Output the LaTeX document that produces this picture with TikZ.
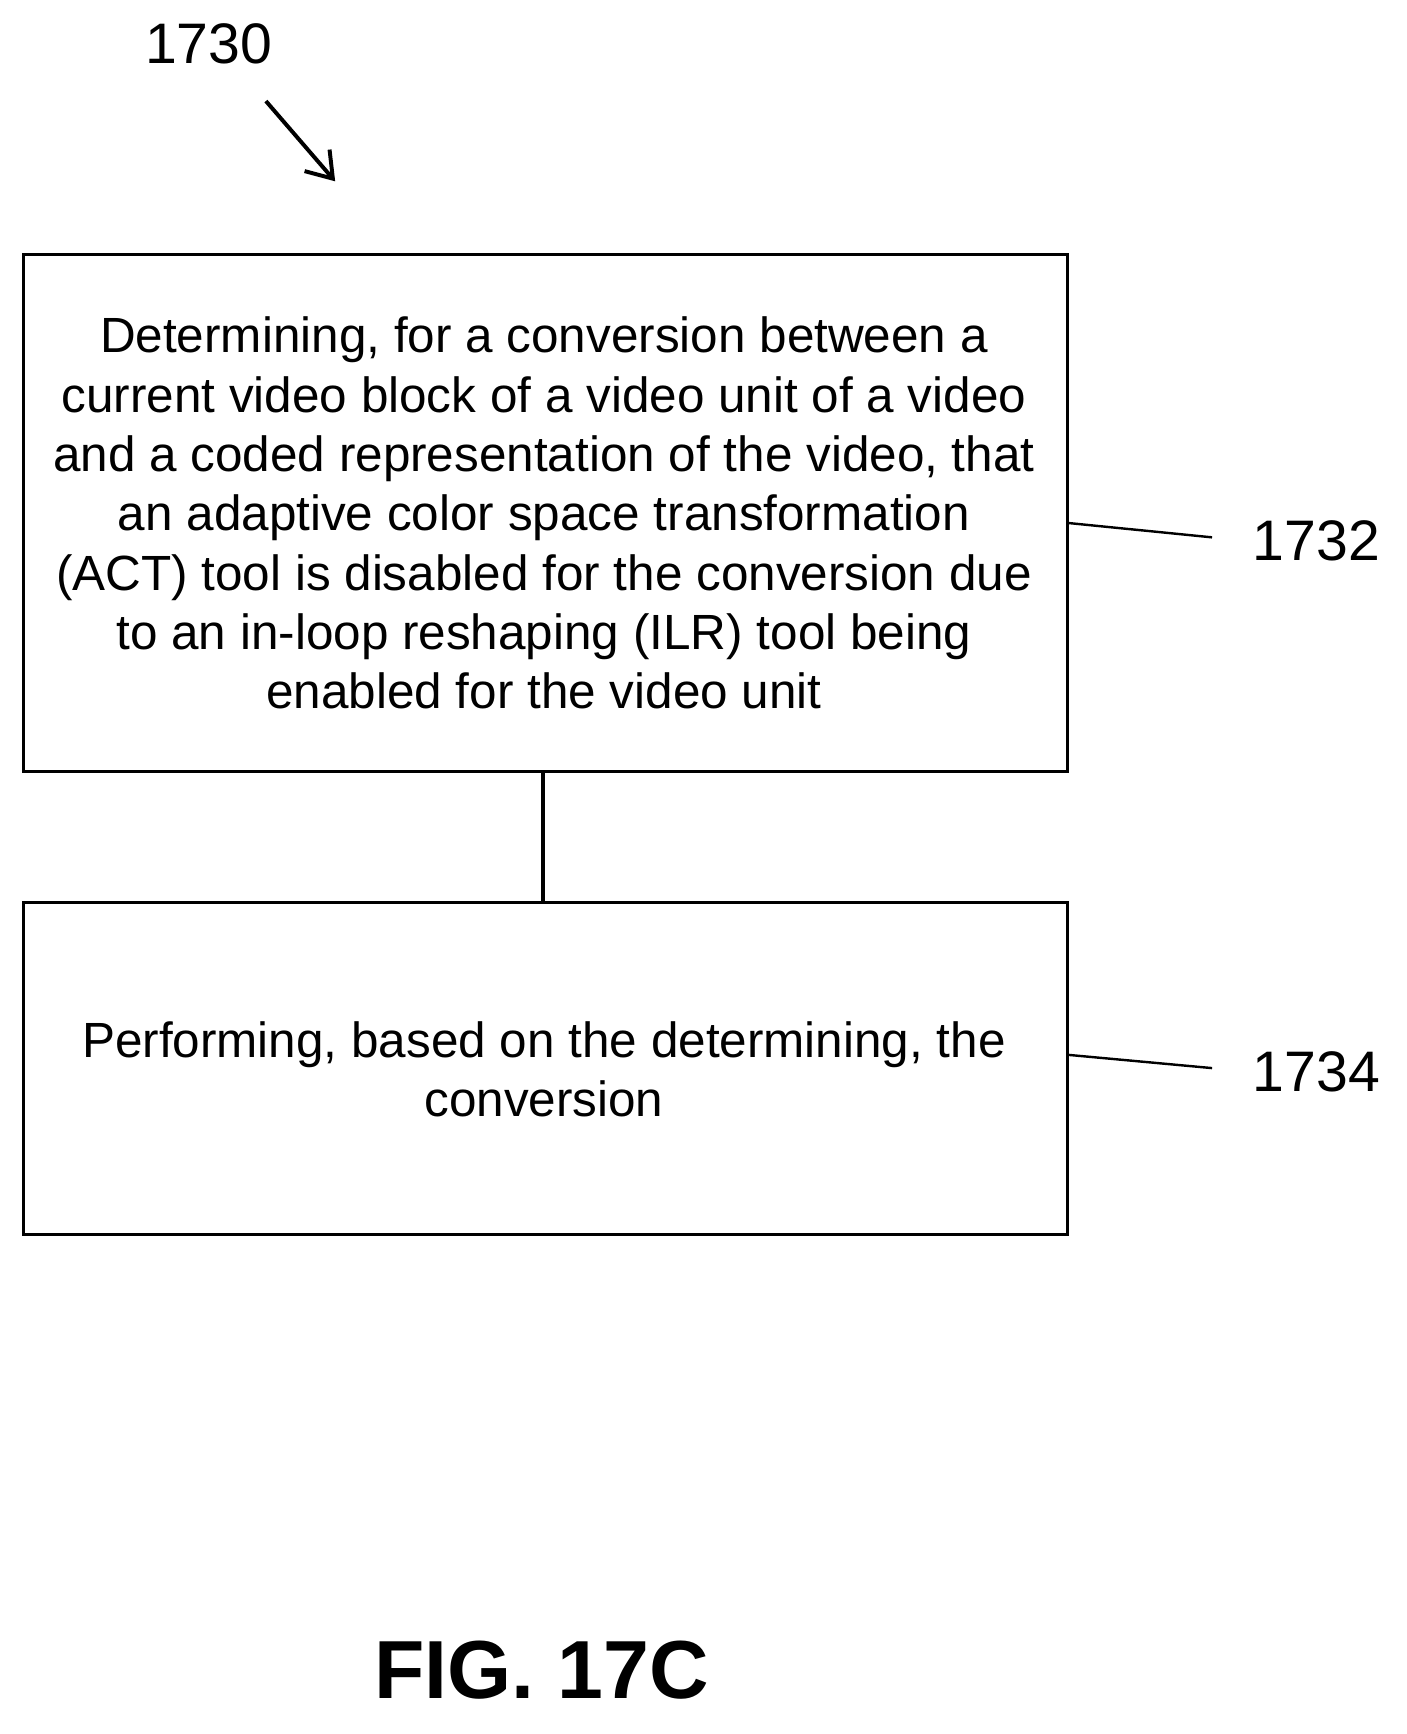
\documentclass[tikz,border=0pt]{standalone}
\usepackage{fontspec}
\usetikzlibrary{arrows.meta}
\setmainfont{Liberation Sans}
\begin{document}
\begin{tikzpicture}[x=1pt,y=-1pt,
  box/.style={draw,line width=2.6pt,minimum width=950pt,anchor=north west,inner sep=0pt},
  txt/.style={font=\fontsize{45}{54}\selectfont,align=center},
  lab/.style={font=\fontsize{52}{56}\selectfont},
  ln/.style={line width=2.2pt}]
\useasboundingbox (0,0) rectangle (1280,1578);
\node[box,minimum height=471pt] (b1) at (20,230) {};
\node[txt] (t1) at (495,467) {Determining, for a conversion between a\\current video block of a video unit of a video\\and a coded representation of the video, that\\an adaptive color space transformation\\(ACT) tool is disabled for the conversion due\\to an in-loop reshaping (ILR) tool being\\enabled for the video unit};
\node[box,minimum height=302pt] (b2) at (20,820) {};
\node[txt] (t2) at (495,973) {Performing, based on the determining, the\\conversion};
\draw[line width=3.4pt] (b1.south -| 494,0) -- (b2.north -| 494,0);
\node[lab] (l1) at (1198,492) {1732};
\node[lab] (l2) at (1198,975) {1734};
\node[lab] (l0) at (190,40) {1730};
\coordinate (c1) at (1103,489);
\coordinate (c2) at (1103,972);
\draw[ln] (b1.east |- 0,476) -- (c1);
\draw[ln] (b2.east |- 0,960) -- (c2);
\coordinate (a0) at (242,92);
\coordinate (a1) at (305,165);
\draw[line width=3.6pt,-{Straight Barb[length=22pt,width=30pt]}] (a0) -- (a1);
\node[font=\bfseries\fontsize{75}{80}\selectfont] (fig) at (493,1520) {FIG. 17C};
\end{tikzpicture}
\end{document}
